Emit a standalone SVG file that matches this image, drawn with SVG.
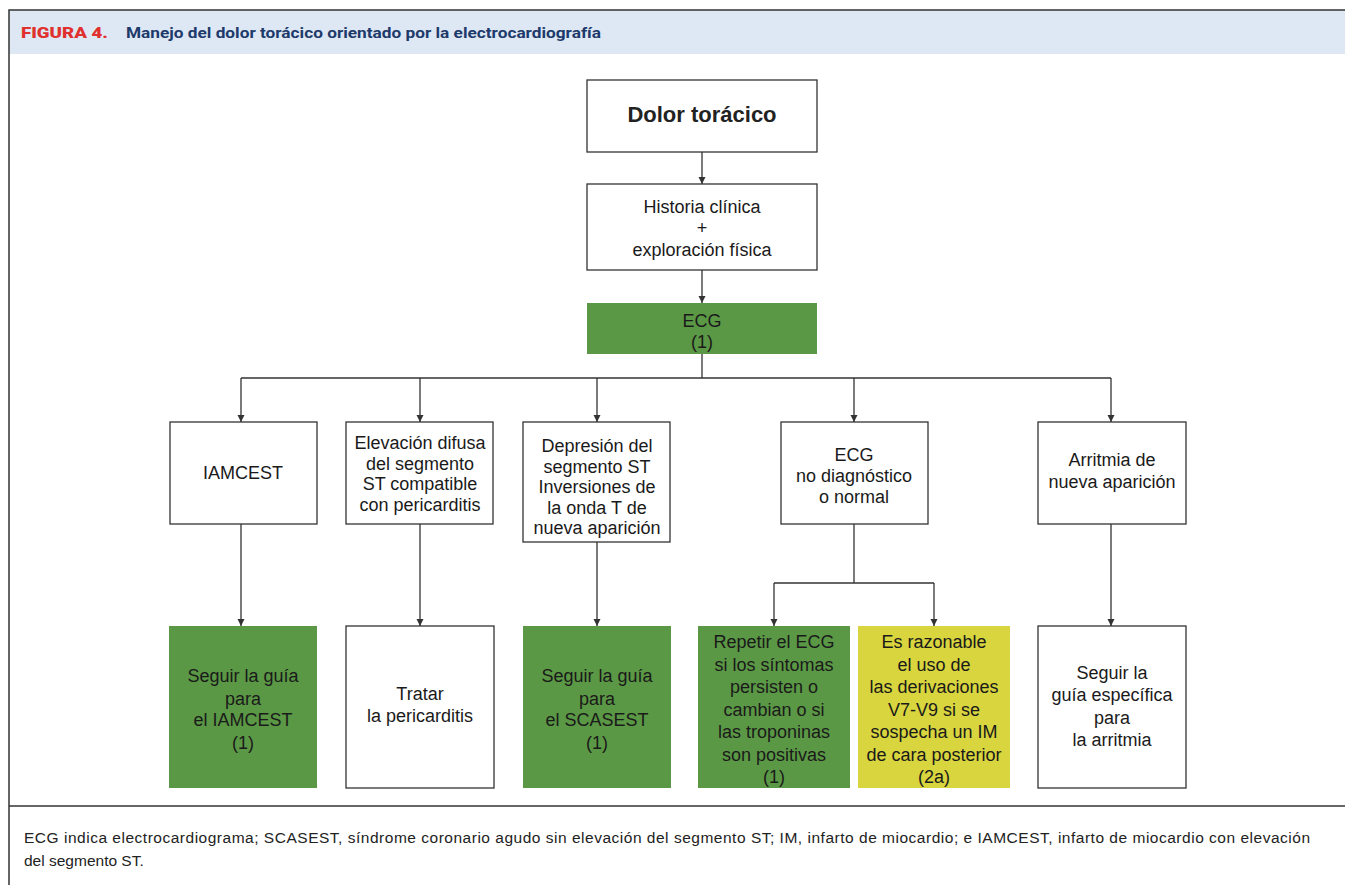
<svg xmlns="http://www.w3.org/2000/svg" width="1345" height="885" viewBox="0 0 1345 885">
  <defs>
    <marker id="arrow" viewBox="0 0 10 10" refX="10" refY="5" markerWidth="7" markerHeight="11" markerUnits="userSpaceOnUse" orient="auto">
      <path d="M0,0 L10,5 L0,10 z" fill="#333"/>
    </marker>
    <style>
      .box { fill: #fff; stroke: #333; stroke-width: 1.3; }
      .green { fill: #5a9845; }
      .yellow { fill: #d8d53e; }
      .lbl { font-family: "Liberation Sans", Arial, sans-serif; font-size: 18px; fill: #1a1a1a; text-anchor: middle; }
      .title { font-family: "Liberation Sans", Arial, sans-serif; font-size: 22px; font-weight: bold; fill: #222; text-anchor: middle; }
      .conn { fill: none; stroke: #333; stroke-width: 1.3; }
      .note { font-family: "Liberation Sans", Arial, sans-serif; font-size: 15.5px; fill: #222; }
    </style>
  </defs>

  <rect width="1345" height="885" fill="#fff"/>

  <!-- frame and header band -->
  <rect x="9" y="10" width="1345" height="44" fill="#dde8f4"/>
  <path d="M9,885 V10 H1345" fill="none" stroke="#333" stroke-width="1.5"/>
  <line x1="9" y1="806" x2="1345" y2="806" stroke="#333" stroke-width="1.5"/>
  <text x="21" y="38" font-family="Roboto, Liberation Sans, sans-serif" font-size="14px" font-weight="900" fill="#e0312f" textLength="87" lengthAdjust="spacingAndGlyphs">FIGURA 4.</text>
  <text x="126" y="38" font-family="Roboto, Liberation Sans, sans-serif" font-size="15px" font-weight="bold" fill="#1d3a6b" textLength="475" lengthAdjust="spacingAndGlyphs">Manejo del dolor torácico orientado por la electrocardiografía</text>

  <!-- connectors -->
  <g id="connectors">
    <line class="conn" x1="702" y1="152" x2="702" y2="184" marker-end="url(#arrow)"/>
    <line class="conn" x1="702" y1="270" x2="702" y2="303" marker-end="url(#arrow)"/>
    <line class="conn" x1="702" y1="354" x2="702" y2="378"/>
    <line class="conn" x1="241" y1="378" x2="1111" y2="378"/>
    <line class="conn" x1="241" y1="378" x2="241" y2="422" marker-end="url(#arrow)"/>
    <line class="conn" x1="420" y1="378" x2="420" y2="422" marker-end="url(#arrow)"/>
    <line class="conn" x1="597" y1="378" x2="597" y2="422" marker-end="url(#arrow)"/>
    <line class="conn" x1="854" y1="378" x2="854" y2="422" marker-end="url(#arrow)"/>
    <line class="conn" x1="1111" y1="378" x2="1111" y2="422" marker-end="url(#arrow)"/>
    <line class="conn" x1="241" y1="524" x2="241" y2="626" marker-end="url(#arrow)"/>
    <line class="conn" x1="420" y1="524" x2="420" y2="626" marker-end="url(#arrow)"/>
    <line class="conn" x1="597" y1="542" x2="597" y2="626" marker-end="url(#arrow)"/>
    <line class="conn" x1="854" y1="524" x2="854" y2="583"/>
    <line class="conn" x1="774" y1="583" x2="934" y2="583"/>
    <line class="conn" x1="774" y1="583" x2="774" y2="626" marker-end="url(#arrow)"/>
    <line class="conn" x1="934" y1="583" x2="934" y2="626" marker-end="url(#arrow)"/>
    <line class="conn" x1="1111" y1="524" x2="1111" y2="626" marker-end="url(#arrow)"/>
  </g>

  <!-- top chain -->
  <g id="dolor">
    <rect class="box" x="587" y="80" width="230" height="72"/>
    <text class="title" x="702" y="122">Dolor torácico</text>
  </g>
  <g id="historia">
    <rect class="box" x="587" y="184" width="230" height="86"/>
    <text class="lbl" x="702" y="213">Historia clínica</text>
    <text class="lbl" x="702" y="234">+</text>
    <text class="lbl" x="702" y="256">exploración física</text>
  </g>
  <g id="ecg">
    <rect class="green" x="587" y="303" width="230" height="51"/>
    <text class="lbl" x="702" y="327">ECG</text>
    <text class="lbl" x="702" y="348">(1)</text>
  </g>

  <!-- ECG findings -->
  <g id="iamcest">
    <rect class="box" x="170" y="422" width="147" height="102"/>
    <text class="lbl" x="243" y="479">IAMCEST</text>
  </g>
  <g id="elevacion">
    <rect class="box" x="346" y="422" width="147" height="102"/>
    <text class="lbl" x="420" y="449">Elevación difusa</text>
    <text class="lbl" x="420" y="469.5">del segmento</text>
    <text class="lbl" x="420" y="490">ST compatible</text>
    <text class="lbl" x="420" y="510.5">con pericarditis</text>
  </g>
  <g id="depresion">
    <rect class="box" x="523" y="422" width="147" height="120"/>
    <text class="lbl" x="597" y="452">Depresión del</text>
    <text class="lbl" x="597" y="472.5">segmento ST</text>
    <text class="lbl" x="597" y="493">Inversiones de</text>
    <text class="lbl" x="597" y="513.5">la onda T de</text>
    <text class="lbl" x="597" y="534">nueva aparición</text>
  </g>
  <g id="no-diagnostico">
    <rect class="box" x="781" y="422" width="147" height="102"/>
    <text class="lbl" x="854" y="461">ECG</text>
    <text class="lbl" x="854" y="482">no diagnóstico</text>
    <text class="lbl" x="854" y="503">o normal</text>
  </g>
  <g id="arritmia">
    <rect class="box" x="1038" y="422" width="148" height="102"/>
    <text class="lbl" x="1112" y="466">Arritmia de</text>
    <text class="lbl" x="1112" y="488">nueva aparición</text>
  </g>

  <!-- actions -->
  <g id="guia-iamcest">
    <rect class="green" x="169" y="626" width="148" height="162"/>
    <text class="lbl" x="243" y="682">Seguir la guía</text>
    <text class="lbl" x="243" y="705">para</text>
    <text class="lbl" x="243" y="726">el IAMCEST</text>
    <text class="lbl" x="243" y="749">(1)</text>
  </g>
  <g id="pericarditis">
    <rect class="box" x="346" y="626" width="148" height="162"/>
    <text class="lbl" x="420" y="700">Tratar</text>
    <text class="lbl" x="420" y="722">la pericarditis</text>
  </g>
  <g id="guia-scasest">
    <rect class="green" x="523" y="626" width="148" height="162"/>
    <text class="lbl" x="597" y="682">Seguir la guía</text>
    <text class="lbl" x="597" y="705">para</text>
    <text class="lbl" x="597" y="726">el SCASEST</text>
    <text class="lbl" x="597" y="749">(1)</text>
  </g>
  <g id="repetir">
    <rect class="green" x="698" y="626" width="152" height="162"/>
    <text class="lbl" x="774" y="648">Repetir el ECG</text>
    <text class="lbl" x="774" y="670.5">si los síntomas</text>
    <text class="lbl" x="774" y="693">persisten o</text>
    <text class="lbl" x="774" y="715.5">cambian o si</text>
    <text class="lbl" x="774" y="738">las troponinas</text>
    <text class="lbl" x="774" y="760.5">son positivas</text>
    <text class="lbl" x="774" y="783">(1)</text>
  </g>
  <g id="derivaciones">
    <rect class="yellow" x="858" y="626" width="152" height="162"/>
    <text class="lbl" x="934" y="648">Es razonable</text>
    <text class="lbl" x="934" y="670.5">el uso de</text>
    <text class="lbl" x="934" y="693">las derivaciones</text>
    <text class="lbl" x="934" y="715.5">V7-V9 si se</text>
    <text class="lbl" x="934" y="738">sospecha un IM</text>
    <text class="lbl" x="934" y="760.5">de cara posterior</text>
    <text class="lbl" x="934" y="783">(2a)</text>
  </g>
  <g id="guia-arritmia">
    <rect class="box" x="1038" y="626" width="148" height="162"/>
    <text class="lbl" x="1112" y="679">Seguir la</text>
    <text class="lbl" x="1112" y="701">guía específica</text>
    <text class="lbl" x="1112" y="724">para</text>
    <text class="lbl" x="1112" y="746">la arritmia</text>
  </g>

  <!-- abbreviations -->
  <text class="note" x="24" y="843" textLength="1286" lengthAdjust="spacing">ECG indica electrocardiograma; SCASEST, síndrome coronario agudo sin elevación del segmento ST; IM, infarto de miocardio; e IAMCEST, infarto de miocardio con elevación</text>
  <text class="note" x="24" y="866">del segmento ST.</text>
</svg>
